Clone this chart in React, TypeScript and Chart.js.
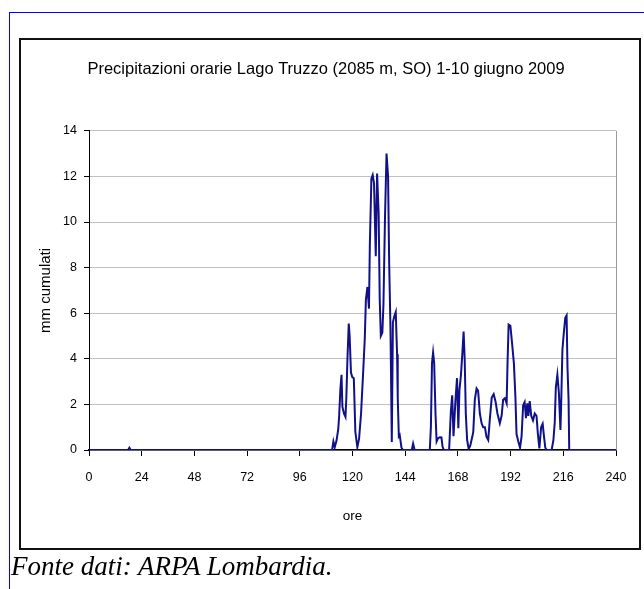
import React, { useEffect, useRef } from 'react';
import { Chart, registerables } from 'chart.js';

Chart.register(...registerables);

const titolo = 'Precipitazioni orarie Lago Truzzo (2085 m, SO) 1-10 giugno 2009';
const titoloAsseX = 'ore';
const titoloAsseY = 'mm cumulati';
const fonte = 'Fonte dati: ARPA Lombardia.';

const xTicks = [0, 24, 48, 72, 96, 120, 144, 168, 192, 216, 240];
const yTicks = [0, 2, 4, 6, 8, 10, 12, 14];

// hours (x) and precipitation (mm)
const ore = [
  0, 17.8, 18.4, 19.0, 110.7, 111.3, 111.9, 112.7, 113.5, 113.9, 114.5, 115.0, 115.4, 116.1, 116.8,
  117.2, 117.7, 118.3, 118.7, 119.3, 119.9, 120.6, 121.3, 122.2, 123.0, 123.9, 124.9, 125.6, 126.1,
  126.8, 127.5, 127.9, 128.6, 129.2, 129.8, 130.6, 131.2, 131.9, 132.4, 132.9, 133.6, 134.1, 134.8,
  135.5, 136.2, 136.7, 137.3, 137.9, 138.4, 139.0, 139.7, 140.3, 140.6, 141.1, 141.5, 142.3, 143.0,
  147.0, 147.6, 148.3, 155.2, 155.7, 156.2, 156.7, 157.2, 157.8, 158.3, 159.0, 159.8, 160.5, 161.0,
  161.6, 164.0, 164.8, 165.4, 166.0, 166.9, 167.6, 168.2, 168.7, 169.4, 170.0, 170.6, 171.1, 171.6,
  172.2, 172.9, 173.6, 174.6, 175.0, 175.7, 176.5, 177.2, 178.0, 178.8, 179.5, 180.3, 181.0, 181.8,
  182.5, 183.4, 184.3, 185.2, 186.0, 187.1, 187.9, 188.6, 189.4, 190.2, 190.6, 191.1, 191.9, 192.6,
  193.5, 194.2, 194.7, 195.5, 196.3, 197.0, 197.7, 198.4, 199.0, 199.6, 200.1, 200.7, 201.4, 202.2,
  203.0, 203.8, 204.4, 205.1, 205.9, 206.6, 207.2, 207.8, 208.4, 210.7, 211.5, 212.1, 212.6, 213.3,
  214.0, 214.7, 215.0, 215.6, 216.2, 216.9, 217.5, 217.9, 218.4, 218.7, 240
];
const mm = [
  0, 0, 0.1, 0, 0, 0.37, 0.12, 0.4, 0.9, 1.45, 2.7, 3.3, 1.9, 1.6, 1.45,
  2.3, 4.0, 5.55, 5.0, 3.4, 3.2, 3.15, 0.8, 0.12, 0.5, 1.6, 3.5, 4.9, 6.6,
  7.15, 6.2, 9.0, 11.9, 12.06, 11.7, 8.5, 12.13, 10.4, 6.6, 5.0, 5.15, 6.4, 10.2,
  13.0, 12.0, 8.2, 5.3, 0.35, 5.6, 5.85, 6.05, 4.2, 2.3, 0.6, 0.66, 0.1, 0,
  0, 0.28, 0, 0, 1.0, 3.8, 4.27, 3.8, 1.6, 0.37, 0.52, 0.56, 0.55, 0.15,
  0, 0, 1.7, 2.4, 0.6, 2.2, 3.15, 0.95, 2.63, 3.3, 4.2, 5.2, 3.95, 1.6,
  0.44, 0.05, 0.18, 0.6, 0.8, 2.2, 2.7, 2.6, 1.6, 1.17, 1.0, 1.0, 0.58, 0.44,
  1.3, 2.3, 2.45, 2.1, 1.6, 1.17, 1.5, 2.2, 2.27, 2.05, 3.8, 5.5, 5.45, 4.75,
  3.8, 2.3, 0.7, 0.37, 0.1, 0.6, 1.95, 2.1, 1.4, 2.05, 1.5, 2.15, 1.5, 1.3,
  1.6, 1.5, 0.73, 0.07, 1.0, 1.15, 0.6, 0.1, 0, 0, 0.44, 1.2, 2.75, 3.3,
  2.5, 0.88, 1.9, 4.4, 5.1, 5.8, 5.9, 3.65, 2.2, 0, 0
];

const rightBorder = {
  id: 'rightBorder',
  beforeDatasetsDraw(chart: any) {
    const { ctx, chartArea } = chart;
    ctx.save();
    ctx.strokeStyle = '#9a9a9a';
    ctx.lineWidth = 1;
    ctx.beginPath();
    ctx.moveTo(Math.round(chartArea.right) + 0.5, chartArea.top);
    ctx.lineTo(Math.round(chartArea.right) + 0.5, chartArea.bottom);
    ctx.stroke();
    ctx.restore();
  },
};

export default function App() {
  const ref = useRef<HTMLCanvasElement>(null);
  useEffect(() => {
    const fam = '"Liberation Sans", Arial, sans-serif';
    const chart = new Chart(ref.current as HTMLCanvasElement, {
      type: 'line',
      data: {
        datasets: [
          {
            data: ore.map((h, i) => ({ x: h, y: mm[i] })),
            borderColor: '#10108a',
            borderWidth: 2,
            pointRadius: 0,
            tension: 0,
            fill: false,
          },
        ],
      },
      options: {
        responsive: false,
        animation: false,
        layout: { padding: { left: 36, right: 28, top: 50, bottom: 59 } },
        plugins: {
          legend: { display: false },
          tooltip: { enabled: false },
          title: {
            display: true,
            text: titolo,
            color: '#000',
            font: { family: fam, size: 16.5, weight: 'normal' },
            padding: { top: 10, bottom: 51 },
          },
        },
        scales: {
          x: {
            type: 'linear',
            min: 0,
            max: 240,
            afterBuildTicks: (s: any) => {
              s.ticks = xTicks.map((v) => ({ value: v }));
            },
            afterFit: (s: any) => {
              s.height = 80;
            },
            grid: { drawOnChartArea: false, drawTicks: true, tickLength: 6, tickColor: '#000' },
            border: { color: '#000', width: 1.5 },
            ticks: { color: '#000', font: { family: fam, size: 12.5 }, padding: 14, maxRotation: 0, autoSkip: false },
            title: { display: true, text: titoloAsseX, color: '#000', font: { family: fam, size: 13.5 }, padding: { top: 0, bottom: 6 } },
          },
          y: {
            min: 0,
            max: 14,
            afterBuildTicks: (s: any) => {
              s.ticks = yTicks.map((v) => ({ value: v }));
            },
            afterFit: (s: any) => {
              s.width = 53;
            },
            grid: { color: '#c0c0c0', tickColor: '#000', tickLength: 5, lineWidth: 1 },
            border: { color: '#000', width: 1 },
            ticks: { color: '#000', font: { family: fam, size: 12.5 }, padding: 7 },
            title: { display: true, text: titoloAsseY, color: '#000', font: { family: fam, size: 15 }, padding: { top: 1, bottom: 0 } },
          },
        },
      },
      plugins: [rightBorder],
    } as any);
    return () => chart.destroy();
  }, []);

  return (
    <div style={{ position: 'fixed', left: 0, top: 0, width: 644, height: 589, overflow: 'hidden', background: '#fff' }}>
      <div style={{ position: 'absolute', left: 9, top: 12, width: 700, height: 700, borderTop: '1px solid #0000ff', borderLeft: '1px solid #0000ff' }} />
      <div style={{ position: 'absolute', left: 19, top: 38, width: 622, height: 512, border: '2px solid #111', boxSizing: 'border-box' }} />
      <canvas ref={ref} width={644} height={589} style={{ position: 'absolute', left: 0, top: 0 }} />
      <div style={{ position: 'absolute', left: 11, top: 551, fontFamily: '"Liberation Serif", "Times New Roman", serif', fontStyle: 'italic', fontSize: 27, whiteSpace: 'nowrap', color: '#000' }}>{fonte}</div>
    </div>
  );
}
